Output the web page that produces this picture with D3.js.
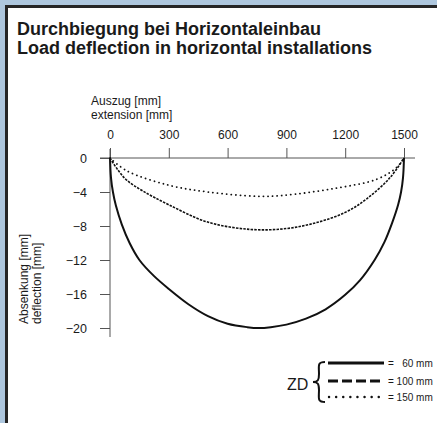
<!DOCTYPE html>
<html>
<head>
<meta charset="utf-8">
<script src="https://d3js.org/d3.v7.min.js"></script>
<style>
  body { margin: 0; background: #aec7de; }
  text { font-family: "Liberation Sans", Arial, sans-serif; fill: #1a1a1a; }
</style>
</head>
<body>
<script>
// axis ticks
var xTicks = [0, 300, 600, 900, 1200, 1500];
var yTicks = [0, -4, -8, -12, -16, -20];

// extension [mm] -> deflection [mm]
var ext60  = [0, 5, 15, 30, 60, 100, 150, 225, 300, 400, 500, 600, 700, 760, 820, 900, 1000, 1100, 1200, 1275, 1350, 1400, 1440, 1470, 1485, 1495, 1500];
var defl60 = [0, -2.3, -4, -5.6, -7.8, -10, -12, -13.9, -15.4, -17.2, -18.6, -19.5, -19.9, -20, -19.9, -19.6, -18.9, -17.8, -16.1, -14.4, -12, -9.9, -7.6, -5.5, -4, -2.3, 0];

var ext100  = [0, 40, 85, 169, 300, 493, 714, 900, 1054, 1200, 1310, 1429, 1500];
var defl100 = [0, -1.4, -2.6, -3.9, -5.5, -7.5, -8.4, -8.3, -7.6, -6.4, -4.8, -2.3, 0];

var ext150  = [0, 85, 300, 500, 750, 884, 1139, 1361, 1463, 1500];
var defl150 = [0, -1.5, -3.2, -4.0, -4.5, -4.4, -3.6, -2.5, -1.1, 0];

var legendLabels = ["=   60 mm", "= 100 mm", "= 150 mm"];

var W = 437, H = 423;
var svg = d3.select("body").append("svg").attr("width", W).attr("height", H);

// white panel with dark frame
svg.append("rect").attr("x", 6.5).attr("y", 6.5).attr("width", W + 20).attr("height", H + 20)
  .attr("fill", "#fff").attr("stroke", "#262626").attr("stroke-width", 3);

svg.append("text").attr("x", 17).attr("y", 35).style("font-size", "18px").style("font-weight", "bold")
  .text("Durchbiegung bei Horizontaleinbau");
svg.append("text").attr("x", 17).attr("y", 54).style("font-size", "18px").style("font-weight", "bold")
  .text("Load deflection in horizontal installations");

var x = d3.scaleLinear().domain([0, 1500]).range([110, 404]);
var y = d3.scaleLinear().domain([0, -20]).range([158, 328]);

var axisColor = "#555";

// x axis on top, ticks pointing up
var gx = svg.append("g").attr("transform", "translate(0,158)");
gx.call(d3.axisTop(x).tickValues(xTicks).tickSize(10).tickPadding(9).tickFormat(d3.format("d")));
gx.select(".domain").remove();
gx.append("line").attr("x1", 100).attr("x2", 415).attr("stroke", axisColor);
gx.selectAll(".tick line").attr("stroke", axisColor);
gx.selectAll(".tick text").style("font-size", "12px").style("font-family", "Liberation Sans, Arial, sans-serif").attr("fill", "#1a1a1a");

// y axis
var gy = svg.append("g").attr("transform", "translate(110,0)");
gy.call(d3.axisLeft(y).tickValues(yTicks).tickSize(10).tickPadding(13));
gy.select(".domain").remove();
gy.append("line").attr("y1", 149).attr("y2", 337).attr("stroke", axisColor);
gy.selectAll(".tick line").attr("stroke", axisColor);
gy.selectAll(".tick text").style("font-size", "12.5px").style("font-family", "Liberation Sans, Arial, sans-serif").attr("fill", "#1a1a1a");

svg.append("text").attr("x", 91).attr("y", 105).style("font-size", "12px").text("Auszug [mm]");
svg.append("text").attr("x", 91).attr("y", 119).style("font-size", "12px").text("extension [mm]");

svg.append("text").attr("transform", "translate(28,324) rotate(-90)").style("font-size", "12px").text("Absenkung [mm]");
svg.append("text").attr("transform", "translate(41,324) rotate(-90)").style("font-size", "12px").text("deflection [mm]");

var line = d3.line().x(function (d) { return x(d[0]); }).y(function (d) { return y(d[1]); })
  .curve(d3.curveCatmullRom.alpha(0.5));

function pairs(a, b) { return a.map(function (v, i) { return [v, b[i]]; }); }

svg.append("path").datum(pairs(ext60, defl60)).attr("d", line)
  .attr("fill", "none").attr("stroke", "#111").attr("stroke-width", 2);
svg.append("path").datum(pairs(ext100, defl100)).attr("d", line)
  .attr("fill", "none").attr("stroke", "#111").attr("stroke-width", 1.6).attr("stroke-dasharray", "2.5,1.2");
svg.append("path").datum(pairs(ext150, defl150)).attr("d", line)
  .attr("fill", "none").attr("stroke", "#111").attr("stroke-width", 1.8)
  .attr("stroke-dasharray", "0.1,4.5").attr("stroke-linecap", "round");

// legend
svg.append("text").attr("x", 287).attr("y", 390).style("font-size", "16px").text("ZD");
svg.append("path")
  .attr("d", "M325,362 C317,362 319,366 319,374 C319,380 318,382 313,382 C318,382 319,384 319,390 C319,398 317,402 325,402")
  .attr("fill", "none").attr("stroke", "#111").attr("stroke-width", 2);

var legY = [363, 381, 397];
var lg = svg.append("g");
lg.append("line").attr("x1", 328).attr("x2", 384).attr("y1", legY[0]).attr("y2", legY[0])
  .attr("stroke", "#111").attr("stroke-width", 3);
lg.append("line").attr("x1", 328).attr("x2", 384).attr("y1", legY[1]).attr("y2", legY[1])
  .attr("stroke", "#111").attr("stroke-width", 3).attr("stroke-dasharray", "10,4");
lg.append("line").attr("x1", 329).attr("x2", 384).attr("y1", legY[2]).attr("y2", legY[2])
  .attr("stroke", "#111").attr("stroke-width", 2.4).attr("stroke-dasharray", "0.1,7").attr("stroke-linecap", "round");

lg.selectAll("text.lab").data(legendLabels).enter().append("text").attr("class", "lab")
  .attr("x", 388).attr("y", function (d, i) { return legY[i] + 4; })
  .style("font-size", "10px").attr("xml:space", "preserve")
  .text(function (d) { return d; });
</script>
</body>
</html>
